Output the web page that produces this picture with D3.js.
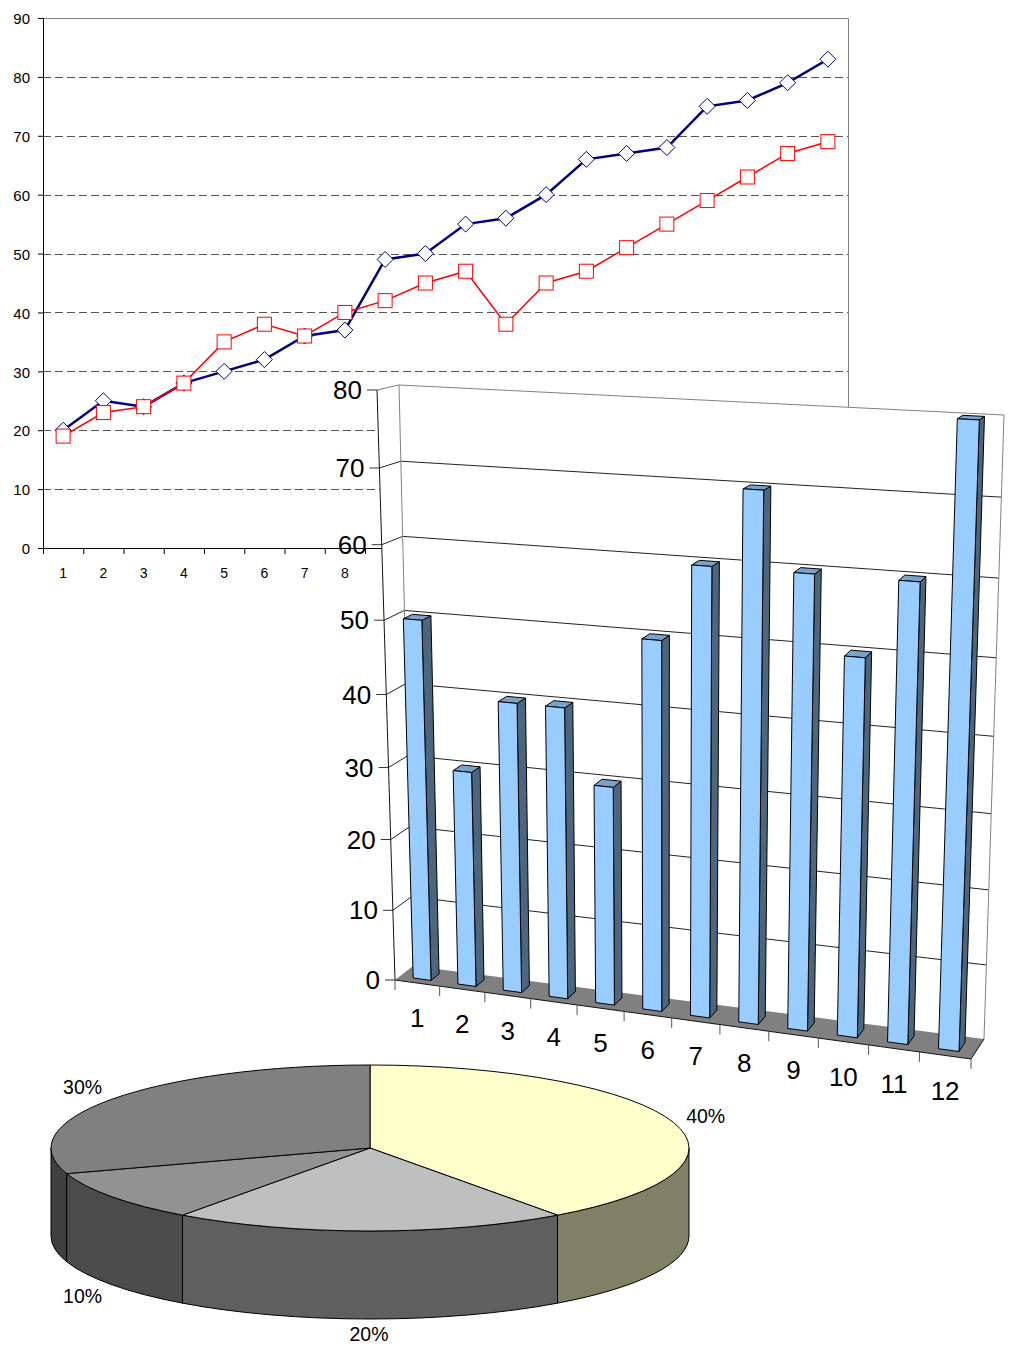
<!DOCTYPE html>
<html>
<head>
<meta charset="utf-8">
<script src="https://cdn.jsdelivr.net/npm/d3@7"></script>
<style>
  body { margin: 0; background: #fff; }
  svg { display: block; }
  text { font-family: "Liberation Sans", Arial, sans-serif; fill: #000; }
</style>
</head>
<body>
<svg id="chart" width="1009" height="1346"></svg>
<script>
const lineCategories = d3.range(1, 21);
const lineBlue = [20, 25, 24, 28, 30, 32, 36, 37, 49, 50, 55, 56, 60, 66, 67, 68, 75, 76, 79, 83];
const lineRed = [19, 23, 24, 28, 35, 38, 36, 40, 42, 45, 47, 38, 45, 47, 51, 55, 59, 63, 67, 69];
const lineTicks = d3.range(0, 100, 10);
const lineLabelsShown = [1, 2, 3, 4, 5, 6, 7, 8];

const barCategories = d3.range(1, 13);
const barValues = [50, 30, 40, 40, 30, 50, 60, 70, 60, 50, 60, 80];
const barTicks = d3.range(0, 90, 10);

const pieLabels = ['40%', '20%', '10%', '30%'];
const pieValues = [40, 20, 10, 30];
const pieTopColors = ['#ffffcc', '#bfbfbf', '#929292', '#808080'];
const pieSideColors = ['#808066', '#5f5f5f', '#4b4b4b', '#404040'];

const svg = d3.select('#chart');

// ---- line chart ----
const lineBox = { left: 43, right: 848, top: 18, bottom: 548 };
const lx = d3.scaleBand().domain(lineCategories).range([lineBox.left, lineBox.right]);
const lxEdge = d3.scaleLinear().domain([0, 20]).range([lineBox.left, lineBox.right]);
const ly = d3.scaleLinear().domain([0, 90]).range([lineBox.bottom, lineBox.top]);
const lcx = d => lx(d) + lx.bandwidth() / 2;

const lineG = svg.append('g');

lineG.append('g')
  .selectAll('line')
  .data(lineTicks.slice(1, -1))
  .enter()
  .append('line')
  .attr('x1', lineBox.left)
  .attr('x2', lineBox.right)
  .attr('y1', d => Math.round(ly(d)) + 0.5)
  .attr('y2', d => Math.round(ly(d)) + 0.5)
  .attr('stroke', '#555')
  .attr('stroke-dasharray', '8,4');

lineG.append('path')
  .attr('d', `M${lineBox.left},${lineBox.top + 0.5}H${lineBox.right + 0.5}V${lineBox.bottom}`)
  .attr('fill', 'none')
  .attr('stroke', '#808080');

lineG.append('g')
  .attr('transform', `translate(${lineBox.left},0)`)
  .call(d3.axisLeft(ly).tickValues(lineTicks).tickSize(5).tickPadding(8))
  .call(g => g.selectAll('text').attr('font-size', 15).attr('dy', '0.38em'))
  .attr('font-family', null);

lineG.append('g')
  .attr('transform', `translate(0,${lineBox.bottom})`)
  .call(d3.axisBottom(lxEdge).tickValues(d3.range(0, 21)).tickSize(6).tickFormat('').tickSizeOuter(6))
  .attr('font-family', null);

lineG.append('g')
  .attr('transform', `translate(0,${lineBox.bottom})`)
  .call(d3.axisBottom(lx).tickValues(lineLabelsShown).tickSize(0).tickPadding(20))
  .call(g => g.select('.domain').remove())
  .call(g => g.selectAll('text').attr('font-size', 14))
  .attr('font-family', null);

const lineGen = d3.line().x((d, i) => lcx(lineCategories[i])).y(d => ly(d));

lineG.append('path')
  .datum(lineBlue)
  .attr('d', lineGen)
  .attr('fill', 'none')
  .attr('stroke', '#000080')
  .attr('stroke-width', 2.5);

lineG.append('g')
  .selectAll('path')
  .data(lineBlue)
  .enter()
  .append('path')
  .attr('d', 'M0,-8L8,0L0,8L-8,0Z')
  .attr('transform', (d, i) => `translate(${lcx(lineCategories[i])},${ly(d)})`)
  .attr('fill', '#fff')
  .attr('stroke', '#000080');

lineG.append('path')
  .datum(lineRed)
  .attr('d', lineGen)
  .attr('fill', 'none')
  .attr('stroke', '#ff0000')
  .attr('stroke-width', 1.5);

lineG.append('g')
  .selectAll('rect')
  .data(lineRed)
  .enter()
  .append('rect')
  .attr('x', (d, i) => lcx(lineCategories[i]) - 7)
  .attr('y', d => ly(d) - 7)
  .attr('width', 14)
  .attr('height', 14)
  .attr('fill', '#fff')
  .attr('stroke', '#ff0000');

// ---- 3d bar chart ----
// maps the unit square onto a quad, this is what gives the perspective
const quadMap = (p0, p1, p2, p3) => {
  const dx1 = p1[0] - p2[0], dx2 = p3[0] - p2[0], sx = p0[0] - p1[0] + p2[0] - p3[0];
  const dy1 = p1[1] - p2[1], dy2 = p3[1] - p2[1], sy = p0[1] - p1[1] + p2[1] - p3[1];
  const den = dx1 * dy2 - dx2 * dy1;
  const g = (sx * dy2 - dx2 * sy) / den, h = (dx1 * sy - sx * dy1) / den;
  const a = p1[0] - p0[0] + g * p1[0], b = p3[0] - p0[0] + h * p3[0];
  const d = p1[1] - p0[1] + g * p1[1], e = p3[1] - p0[1] + h * p3[1];
  return (u, v) => {
    const w = g * u + h * v + 1;
    return [(a * u + b * v + p0[0]) / w, (d * u + e * v + p0[1]) / w];
  };
};

const frontPlane = quadMap([395, 980], [971, 1059], [993, 423], [377, 390]);
const backPlane = quadMap([413, 966], [984, 1039], [1004, 415], [399, 385]);

const bu = d3.scaleLinear().domain([0, 12]).range([0, 1]);
const bv = d3.scaleLinear().domain([0, 80]).range([0, 1]);
const band = d3.scaleBand().domain(barCategories).range([0, 12]).paddingInner(0.6).paddingOuter(0.3);

// z 0 is the front edge of the floor, z 1 the back wall
const project = (x, val, z) => {
  const f = frontPlane(bu(x), bv(val)), b = backPlane(bu(x), bv(val));
  return [f[0] + (b[0] - f[0]) * z, f[1] + (b[1] - f[1]) * z];
};
const poly = d3.line();
const face = pts => poly(pts) + 'Z';

const barG = svg.append('g');

// white walls cover what is behind them
barG.append('path')
  .attr('d', face([project(0, 80, 0), project(0, 80, 1), project(12, 80, 1), project(12, 0, 1), project(12, 0, 0), project(0, 0, 0)]))
  .attr('fill', '#fff');

barG.append('path')
  .attr('d', face([project(0, 0, 0), project(0, 0, 1), project(12, 0, 1), project(12, 0, 0)]))
  .attr('fill', '#808080');

barG.append('g')
  .selectAll('path')
  .data(barTicks.slice(1, -1))
  .enter()
  .append('path')
  .attr('d', d => poly([project(0, d, 0), project(0, d, 1), project(12, d, 1)]))
  .attr('fill', 'none')
  .attr('stroke', '#222');

barG.append('path')
  .attr('d', poly([project(0, 80, 0), project(0, 80, 1), project(12, 80, 1), project(12, 0, 1)]))
  .attr('fill', 'none')
  .attr('stroke', '#808080');

barG.append('path')
  .attr('d', poly([project(0, 0, 1), project(0, 80, 1)]))
  .attr('fill', 'none')
  .attr('stroke', '#808080');

// floor edges and axis lines
barG.append('path')
  .attr('d', poly([project(0, 80, 0), project(0, 0, 0), project(12, 0, 0), project(12, 0, 1)]))
  .attr('fill', 'none')
  .attr('stroke', '#111');

const yTicks = barG.append('g')
  .selectAll('g')
  .data(barTicks)
  .enter()
  .append('g')
  .attr('transform', d => `translate(${project(0, d, 0)})`);

yTicks.append('line').attr('x1', -10).attr('x2', 0).attr('stroke', '#333');

yTicks.append('text')
  .attr('x', -15)
  .attr('dy', '0.35em')
  .attr('text-anchor', 'end')
  .attr('font-size', 26)
  .text(d => d);

barG.append('g')
  .selectAll('line')
  .data(d3.range(0, 13))
  .enter()
  .append('line')
  .attr('x1', d => project(d, 0, 0)[0])
  .attr('x2', d => project(d, 0, 0)[0])
  .attr('y1', d => project(d, 0, 0)[1])
  .attr('y2', d => project(d, 0, 0)[1] + 10)
  .attr('stroke', '#555');

barG.append('g')
  .selectAll('text')
  .data(barCategories)
  .enter()
  .append('text')
  .attr('x', d => project(d - 0.5, 0, 0)[0])
  .attr('y', d => project(d - 0.5, 0, 0)[1] + 35)
  .attr('dy', '0.35em')
  .attr('text-anchor', 'middle')
  .attr('font-size', 26)
  .text(d => d);

const zFront = 0.27, zBack = 0.72;
const bars = barG.append('g')
  .selectAll('g')
  .data(barCategories)
  .enter()
  .append('g')
  .attr('stroke', '#000');

// side, top and front of a bar, for category c with value v
const barFace = (c, v, kind) => {
  const x0 = band(c), x1 = x0 + band.bandwidth();
  if (kind === 'side') {
    return face([project(x1, 0, zFront), project(x1, 0, zBack), project(x1, v, zBack), project(x1, v, zFront)]);
  }
  if (kind === 'top') {
    return face([project(x0, v, zFront), project(x0, v, zBack), project(x1, v, zBack), project(x1, v, zFront)]);
  }
  return face([project(x0, 0, zFront), project(x1, 0, zFront), project(x1, v, zFront), project(x0, v, zFront)]);
};

bars.append('path')
  .attr('d', (d, i) => barFace(d, barValues[i], 'side'))
  .attr('fill', '#4d6680');

bars.append('path')
  .attr('d', (d, i) => barFace(d, barValues[i], 'top'))
  .attr('fill', '#7aa3cc');

bars.append('path')
  .attr('d', (d, i) => barFace(d, barValues[i], 'front'))
  .attr('fill', '#99ccff');

// ---- 3d pie ----
const pieCx = 370, pieCy = 1148, rx = 319, ry = 83, pieDepth = 88;
const arcs = d3.pie().sort(null)(pieValues);
const arcGen = d3.arc().innerRadius(0).outerRadius(rx);
const onEdge = (a, dy) => [pieCx + rx * Math.sin(a), pieCy - ry * Math.cos(a) + dy];

const pieG = svg.append('g');

// only the part between 3 and 9 o'clock shows a side
const sidePath = d => {
  const a0 = Math.max(d.startAngle, Math.PI / 2), a1 = Math.min(d.endAngle, Math.PI * 1.5);
  if (a0 >= a1) return null;
  const p0 = onEdge(a0, 0), p1 = onEdge(a1, 0), p2 = onEdge(a1, pieDepth), p3 = onEdge(a0, pieDepth);
  return `M${p0}A${rx},${ry} 0 0 1 ${p1}L${p2}A${rx},${ry} 0 0 0 ${p3}Z`;
};

pieG.append('g')
  .selectAll('path')
  .data(arcs.filter(sidePath))
  .enter()
  .append('path')
  .attr('d', sidePath)
  .attr('fill', d => pieSideColors[d.index])
  .attr('stroke', '#000');

pieG.append('g')
  .attr('transform', `translate(${pieCx},${pieCy}) scale(1,${ry / rx})`)
  .selectAll('path')
  .data(arcs)
  .enter()
  .append('path')
  .attr('d', arcGen)
  .attr('fill', d => pieTopColors[d.index])
  .attr('stroke', '#000')
  .attr('vector-effect', 'non-scaling-stroke');

pieG.append('g')
  .selectAll('text')
  .data(arcs)
  .enter()
  .append('text')
  .attr('x', d => pieCx - 1 + 354 * Math.sin((d.startAngle + d.endAngle) / 2))
  .attr('y', d => {
    const c = Math.cos((d.startAngle + d.endAngle) / 2);
    return c < 0 ? pieCy + pieDepth + 7 - 91 * c : pieCy - 104 * c;
  })
  .attr('dy', '0.35em')
  .attr('text-anchor', 'middle')
  .attr('font-size', 19.5)
  .text(d => pieLabels[d.index]);
</script>
</body>
</html>
